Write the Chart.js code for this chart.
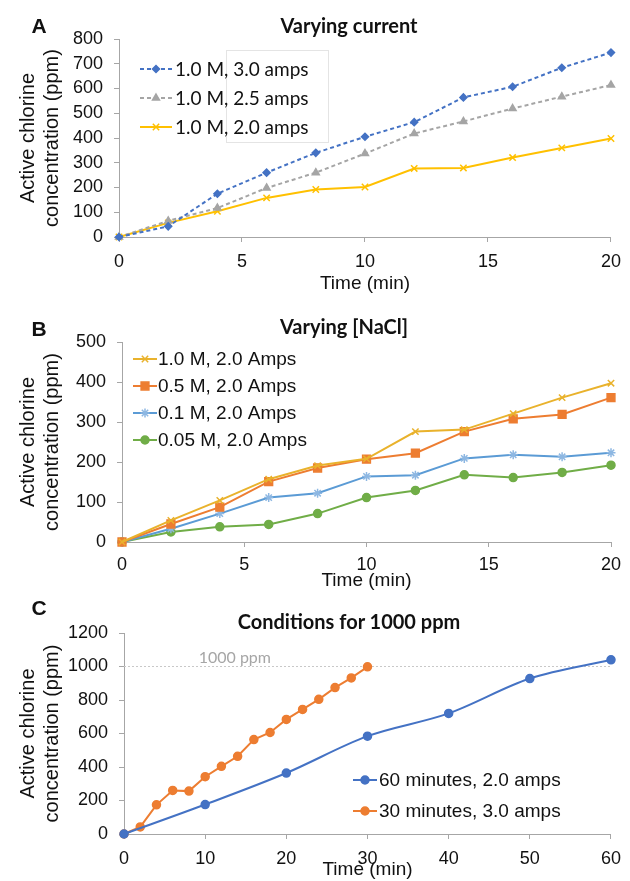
<!DOCTYPE html>
<html>
<head>
<meta charset="utf-8">
<script src="https://cdn.jsdelivr.net/npm/chart.js@4.4.1/dist/chart.umd.min.js"></script>
<style>
body { margin: 0; background: #fff; }
#page { position: relative; width: 630px; height: 881px; overflow: hidden; }
canvas { position: absolute; left: 0; }
.lbl { position: absolute; transform: translate(-50%, -50%); white-space: nowrap; color: #111; }
.letter { font: bold 21px "Liberation Sans"; }
.title { font: bold 20px Lato; }
</style>
</head>
<body>
<div id="page">
  <canvas id="chartA" width="630" height="295" style="top:0"></canvas>
  <canvas id="chartB" width="630" height="297" style="top:295px"></canvas>
  <canvas id="chartC" width="630" height="289" style="top:592px"></canvas>
  <div class="lbl letter" style="left:39px;top:26px">A</div>
  <div class="lbl title" style="left:349px;top:25px">Varying current</div>
  <div class="lbl letter" style="left:39px;top:329px">B</div>
  <div class="lbl title" style="left:344px;top:326px">Varying [NaCl]</div>
  <div class="lbl letter" style="left:39px;top:608px">C</div>
  <div class="lbl title" style="left:349px;top:621px">Conditions for 1000 ppm</div>
</div>
<script>
// panel A - varying current (1.0 M NaCl)
const timeA = [0, 2, 4, 6, 8, 10, 12, 14, 16, 18, 20]
const amps30 = [0, 43, 175, 260, 340, 405, 464, 564, 607, 684, 745]
const amps25 = [0, 65, 117, 198, 260, 337, 418, 467, 519, 567, 614]
const amps20 = [0, 57, 104, 158, 192, 202, 277, 279, 321, 360, 398]
const labelsA = ["1.0 M, 3.0 amps", "1.0 M, 2.5 amps", "1.0 M, 2.0 amps"]

// panel B - varying [NaCl] at 2.0 amps
const timeB = [0, 2, 4, 6, 8, 10, 12, 14, 16, 18, 20]
const nacl10 = [0, 54, 104, 157, 191, 208, 276, 281, 321, 361, 397]
const nacl05 = [0, 45, 87, 151, 185, 207, 222, 276, 308, 319, 361]
const nacl01 = [0, 33, 71, 111, 122, 164, 167, 209, 218, 213, 223]
const nacl005 = [0, 25, 38, 44, 71, 111, 129, 168, 161, 174, 192]
const labelsB = ["1.0 M, 2.0 Amps", "0.5 M, 2.0 Amps", "0.1 M, 2.0 Amps", "0.05 M, 2.0 Amps"]

// panel C - conditions for 1000 ppm
const time60 = [0, 10, 20, 30, 40, 50, 60]
const run60 = [0, 176, 364, 584, 720, 928, 1040]
const time30 = [0, 2, 4, 6, 8, 10, 12, 14, 16, 18, 20, 22, 24, 26, 28, 30]
const run30 = [0, 42, 174, 260, 256, 342, 404, 464, 564, 606, 684, 744, 804, 874, 932, 998]
const labelsC = ["60 minutes, 2.0 amps", "30 minutes, 3.0 amps"]
const targetPpm = 1000
const targetLabel = "1000 ppm"

const yTitle = ["Active chlorine", "concentration (ppm)"]
const xTitle = "Time (min)"

function pts(xs, ys) {
    return xs.map((x, i) => ({x: x, y: ys[i]}))
}

// legend drawn like the excel one: line piece, marker, text
const lineLegend = {
    id: 'lineLegend',
    afterDatasetsDraw(chart, args, o) {
        const ctx = chart.ctx
        ctx.save()
        if (o.frame) {
            const f = o.frame
            ctx.fillStyle = '#fff'
            ctx.strokeStyle = '#e4e4e4'
            ctx.lineWidth = 1
            ctx.fillRect(f[0], f[1], f[2], f[3])
            ctx.strokeRect(f[0] + 0.5, f[1] + 0.5, f[2], f[3])
        }
        ctx.font = o.font
        ctx.textBaseline = 'middle'
        ctx.textAlign = 'left'
        let y = o.y
        chart.data.datasets.forEach(ds => {
            if (!ds.label) return
            ctx.setLineDash(ds.borderDash || [])
            ctx.strokeStyle = ds.borderColor
            ctx.lineWidth = ds.borderWidth
            ctx.beginPath()
            ctx.moveTo(o.x, y)
            ctx.lineTo(o.x + o.len, y)
            ctx.stroke()
            ctx.setLineDash([])
            ctx.fillStyle = ds.pointBackgroundColor
            ctx.strokeStyle = ds.pointBorderColor
            ctx.lineWidth = ds.pointBorderWidth
            Chart.helpers.drawPoint(ctx, {pointStyle: ds.pointStyle, radius: ds.pointRadius, rotation: 0, borderWidth: ds.pointBorderWidth}, o.x + o.len / 2, y)
            ctx.fillStyle = '#111'
            ctx.fillText(ds.label, o.x + o.len + o.gap, y + 1)
            y += o.step
        })
        // little text over the target line
        if (o.note) {
            const xs = chart.scales.x, ys = chart.scales.y
            ctx.font = o.note.font
            ctx.fillStyle = '#a6a6a6'
            ctx.textBaseline = 'alphabetic'
            ctx.fillText(o.note.text, xs.getPixelForValue(o.note.at), ys.getPixelForValue(targetPpm) - 4)
        }
        ctx.restore()
    }
}

function xAxis(max, step, h, pad) {
    return {
        type: 'linear', min: 0, max: max,
        ticks: {stepSize: step, color: '#111', font: {family: 'Liberation Sans', size: 18}, padding: pad, maxRotation: 0,
            callback: v => String(v)},
        grid: {drawOnChartArea: false, drawTicks: true, tickLength: 5, color: '#a6a6a6'},
        border: {color: '#a6a6a6'},
        title: {display: true, text: xTitle, color: '#111', font: {family: 'Liberation Sans', size: 19}, padding: {top: 0, bottom: 0}},
        afterFit: s => { s.height = h }
    }
}

function yAxis(max, step, w) {
    return {
        type: 'linear', min: 0, max: max,
        ticks: {stepSize: step, color: '#111', font: {family: 'Liberation Sans', size: 18}, padding: 11,
            callback: v => String(v)},
        grid: {drawOnChartArea: false, drawTicks: true, tickLength: 5, color: '#a6a6a6'},
        border: {color: '#a6a6a6'},
        title: {display: true, text: yTitle, color: '#111', font: {family: 'Liberation Sans', size: 20}, padding: {top: 16, bottom: 0}},
        afterFit: s => { s.width = w }
    }
}

function series(label, data, color, style, radius, extra) {
    return Object.assign({
        label: label, data: data,
        borderColor: color, borderWidth: 2,
        pointStyle: style, pointRadius: radius,
        pointBackgroundColor: color, pointBorderColor: color, pointBorderWidth: 1.5,
        tension: 0, fill: false, clip: false
    }, extra || {})
}

function baseOptions(pad, xs, ys, legend) {
    return {
        responsive: false, animation: false,
        layout: {padding: pad},
        scales: {x: xs, y: ys},
        plugins: {legend: {display: false}, tooltip: {enabled: false}, lineLegend: legend}
    }
}

new Chart(document.getElementById('chartA'), {
    type: 'line',
    data: {datasets: [
        series(labelsA[0], pts(timeA, amps30), '#4472C4', 'rectRot', 3.5, {borderDash: [4, 3]}),
        series(labelsA[1], pts(timeA, amps25), '#A5A5A5', 'triangle', 4, {borderDash: [4, 3]}),
        series(labelsA[2], pts(timeA, amps20), '#FFC000', 'crossRot', 4.5)
    ]},
    options: baseOptions({left: 0, right: 19, top: 39, bottom: 0}, xAxis(20, 5, 58, 9), yAxis(800, 100, 119),
        {x: 140, y: 69, step: 29, len: 32, gap: 3, font: '19px Lato', frame: [226, 50, 102, 92]}),
    plugins: [lineLegend]
})

new Chart(document.getElementById('chartB'), {
    type: 'line',
    data: {datasets: [
        series(labelsB[0], pts(timeB, nacl10), '#E9B22C', 'crossRot', 4.5),
        series(labelsB[1], pts(timeB, nacl05), '#ED7D31', 'rect', 5.5),
        series(labelsB[2], pts(timeB, nacl01), '#5B9BD5', 'star', 4.5, {pointBorderColor: '#8DB7E2'}),
        series(labelsB[3], pts(timeB, nacl005), '#70AD47', 'circle', 4)
    ]},
    options: baseOptions({left: 0, right: 19, top: 47, bottom: 0}, xAxis(20, 5, 50, 7), yAxis(500, 100, 122),
        {x: 133, y: 64, step: 27, len: 24, gap: 1, font: '19px "Liberation Sans"'}),
    plugins: [lineLegend]
})

new Chart(document.getElementById('chartC'), {
    type: 'line',
    data: {datasets: [
        series(labelsC[0], pts(time60, run60), '#4472C4', 'circle', 4, {cubicInterpolationMode: 'monotone'}),
        series(labelsC[1], pts(time30, run30), '#ED7D31', 'circle', 4),
        series('', pts([0, 60], [targetPpm, targetPpm]), '#c8c8c8', 'circle', 0, {borderWidth: 1, borderDash: [2, 2]})
    ]},
    options: baseOptions({left: 0, right: 10, top: 41, bottom: 0}, xAxis(60, 10, 47, 9), yAxis(1200, 200, 124),
        {x: 353, y: 188, step: 31, len: 24, gap: 2, font: '19px "Liberation Sans"',
         note: {text: targetLabel, at: 9.2, font: '16px Lato'}}),
    plugins: [lineLegend]
})
</script>
</body>
</html>
